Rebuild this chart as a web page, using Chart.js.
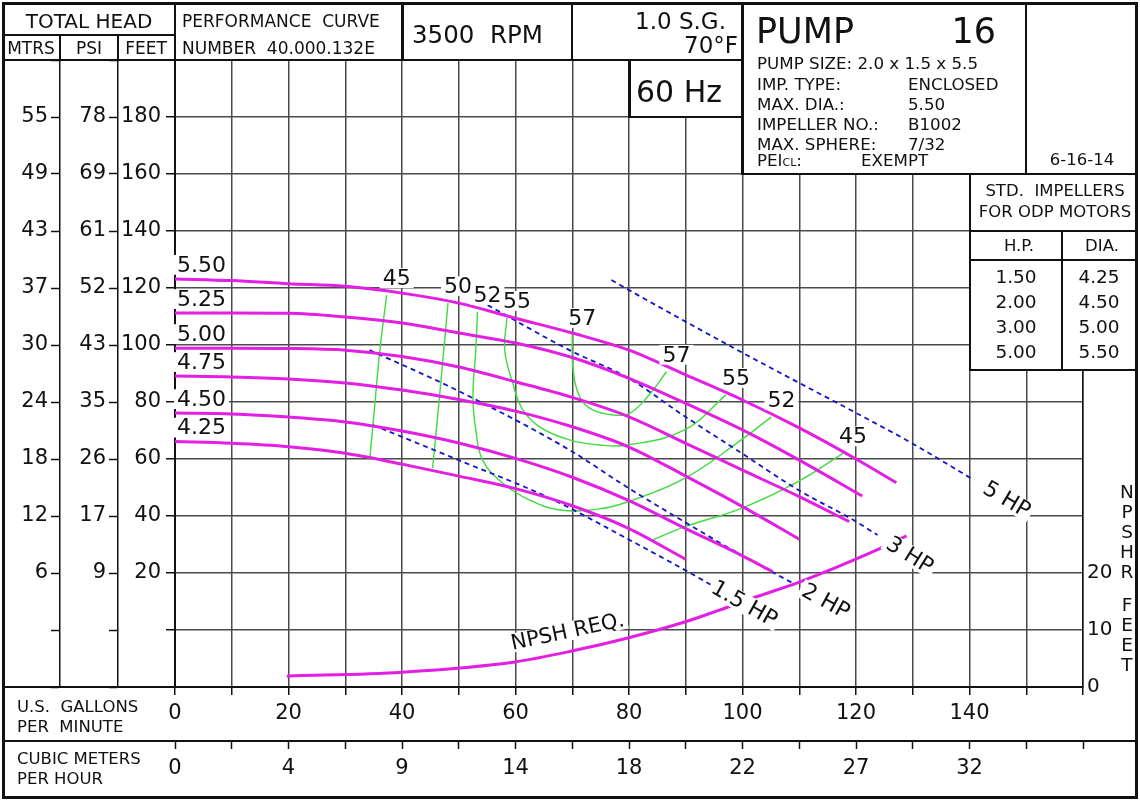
<!DOCTYPE html>
<html>
<head>
<meta charset="utf-8">
<title>Pump 16 performance curve</title>
<script src="https://cdn.jsdelivr.net/npm/chart.js@4.4.1/dist/chart.umd.min.js"></script>
<style>
  html, body { margin: 0; padding: 0; background: #fff; overflow: hidden; }
  #wrap { position: relative; width: 1140px; height: 801px; }
  #chart { position: absolute; left: 0; top: 0; }
  .ln { position: absolute; background: #111; }
  .box { position: absolute; background: #fff; }
  .t { position: absolute; white-space: pre; font-family: "DejaVu Sans", Verdana, sans-serif; color: #111; line-height: 1; }
</style>
</head>
<body>
<div id="wrap">
  <canvas id="chart" width="1140" height="801"></canvas>
  <div id="sheet"></div>
</div>
<script>
// Head scale tick labels (feet, with the matching metres and psi)
const headFeet = [180, 160, 140, 120, 100, 80, 60, 40, 20];
const headMtrs = ['55', '49', '43', '37', '30', '24', '18', '12', '6'];
const headPsi = ['78', '69', '61', '52', '43', '35', '26', '17', '9'];

// Flow scale tick labels
const gpmTicks = [0, 20, 40, 60, 80, 100, 120, 140];
const cmhTicks = ['0', '4', '9', '14', '18', '22', '27', '32'];
const npshTicks = [0, 10, 20];

// Impeller curves (gpm / feet)
const impDia = ['5.50', '5.25', '5.00', '4.75', '4.50', '4.25'];
const gpm550 = [0, 10, 20, 30, 40, 50, 60, 70, 80, 90, 100, 110, 120, 127.1];
const head550 = [123.2, 122.6, 121.5, 120.6, 118.2, 114.7, 109.4, 104.2, 98.2, 89.5, 80.7, 70.9, 60, 51.7];
const gpm525 = [0, 10, 20, 30, 40, 50, 60, 70, 80, 90, 100, 110, 121.1];
const head525 = [111.2, 111.2, 111.1, 109.8, 107.7, 104.2, 100.7, 95.6, 88.3, 79.5, 70.2, 59.6, 47];
const gpm500 = [0, 10, 20, 30, 40, 50, 60, 70, 80, 90, 100, 110, 118.8];
const head500 = [98.9, 98.9, 98.8, 98.2, 96, 92.3, 87.1, 81.6, 74.8, 65.5, 56.1, 46.8, 38];
const gpm475 = [0, 10, 20, 30, 40, 50, 60, 70, 80, 90, 100, 110];
const head475 = [89.1, 88.8, 88.1, 86.7, 84.2, 80.9, 76.8, 71.3, 64.2, 54, 43.3, 31.9];
const gpm450 = [0, 10, 20, 30, 40, 50, 60, 70, 80, 90, 100, 105.3];
const head450 = [76.1, 75.8, 74.7, 73, 69.8, 65.6, 60.2, 53.6, 45.4, 35.6, 26, 20.5];
const gpm425 = [0, 10, 20, 30, 40, 50, 60, 70, 80, 90];
const head425 = [66.1, 65.5, 64.3, 62, 58.2, 54, 49.6, 43.6, 35.6, 24.8];

// Efficiency curves (%), drawn from the top of each branch
const effStartLabel = ['45', '50', '52', '55', '57', ''];
const effEndLabel = ['', '', '52', '55', '57', '45'];
const eff45aGpm = [37.3, 36.1, 35.2, 34.3];
const eff45aHead = [117.5, 98.2, 78.9, 59.6];
const eff50Gpm = [48.1, 47.2, 46.3, 45.4];
const eff50Head = [114.7, 94.7, 75.4, 56.8];
const eff52Gpm = [53.3, 53.0, 52.5, 53.0, 54.2, 57.7, 62.5, 67.8, 74.8, 79.8, 89.8, 99.8, 105.1];
const eff52Head = [111.6, 98.2, 81.8, 70.2, 59.6, 51.6, 45.6, 42.1, 42.5, 45, 53.2, 66.7, 74.8];
const eff55Gpm = [58.5, 58.1, 59.5, 61.3, 64.3, 69.5, 74.8, 79.8, 89.8, 97.1];
const eff55Head = [109.5, 98.2, 86.7, 77.2, 71.2, 66.7, 64.9, 64.9, 70.2, 82.5];
const eff57Gpm = [70, 70.1, 71.3, 73.6, 77.5, 80.1, 83.3, 86.6];
const eff57Head = [103.5, 92.4, 81.9, 77.2, 75.4, 76, 81.9, 90.6];
const eff45bGpm = [84.2, 89.8, 99.8, 109.7, 117.7];
const eff45bHead = [31.6, 36.2, 42.7, 52, 62];

// Motor power lines
const hpNames = ['1.5 HP', '2 HP', '3 HP', '5 HP'];
const hp15Gpm = [34.9, 50.0, 66.0, 80.1, 89.8, 94.5];
const hp15Head = [71.9, 59.6, 46.3, 31.6, 21.1, 15.8];
const hp2Gpm = [34.3, 49.6, 69.5, 79.6, 89.8, 99.8, 108.8];
const hp2Head = [98.2, 84.2, 63.2, 50.2, 37.9, 26.3, 16.5];
const hp3Gpm = [55.1, 69.5, 79.8, 89.8, 99.8, 109.7, 119.7, 123.8];
const hp3Head = [114, 98.2, 88.5, 75, 62.1, 49.3, 38.4, 33.3];
const hp5Gpm = [76.9, 83.1, 99.8, 109.7, 119.7, 129.8, 140.8];
const hp5Head = [122.8, 115.8, 97.5, 87, 76.5, 65.6, 52.6];

// NPSH required (feet, right scale)
const npshGpm = [19.7, 40, 59.9, 69.9, 79.8, 89.8, 95.4, 101.8, 110, 122.9, 128.9];
const npshFeet = [1.9, 2.6, 4.4, 6.3, 8.6, 11.4, 13.3, 15.6, 18.4, 23.7, 26.5];

const MAG = '#e21fe2';
const GREEN = '#3fdc3f';
const BLUE = '#1414c8';
const FONT = '"DejaVu Sans", Verdana, sans-serif';

const impCurves = [[gpm550, head550], [gpm525, head525], [gpm500, head500],
  [gpm475, head475], [gpm450, head450], [gpm425, head425]];
const effCurves = [[eff45aGpm, eff45aHead], [eff50Gpm, eff50Head], [eff52Gpm, eff52Head],
  [eff55Gpm, eff55Head], [eff57Gpm, eff57Head], [eff45bGpm, eff45bHead]];
const hpCurves = [[hp15Gpm, hp15Head], [hp2Gpm, hp2Head], [hp3Gpm, hp3Head], [hp5Gpm, hp5Head]];

const pts = (gx, hy) => gx.map((x, i) => ({ x: x, y: hy[i] }));

// curves that run left to right get monotone smoothing, the loops get plain tension
const datasets = [];
impCurves.forEach(([g, h], i) => datasets.push({
  label: impDia[i], data: pts(g, h), borderColor: MAG, borderWidth: 3, order: 0,
  cubicInterpolationMode: 'monotone'
}));
datasets.push({
  label: 'NPSH REQ.', data: pts(npshGpm, npshFeet), yAxisID: 'npsh',
  borderColor: MAG, borderWidth: 3, order: 0, cubicInterpolationMode: 'monotone'
});
hpCurves.forEach(([g, h], i) => datasets.push({
  label: hpNames[i], data: pts(g, h), borderColor: BLUE, borderWidth: 1.8,
  borderDash: [5, 4], order: 1, cubicInterpolationMode: 'monotone'
}));
effCurves.forEach(([g, h], i) => datasets.push({
  label: 'eff ' + i, data: pts(g, h), borderColor: GREEN, borderWidth: 1.4, order: 2
}));
datasets.forEach(d => Object.assign(d, {
  showLine: true, pointRadius: 0, pointHoverRadius: 0, tension: 0.4, fill: false
}));

// text with a white patch behind it, like the labels on the printed sheet
function tag(ctx, text, px, py, angle, size, align) {
  ctx.save();
  ctx.translate(px, py);
  ctx.rotate(angle);
  ctx.font = size + 'px ' + FONT;
  const w = ctx.measureText(text).width;
  const x0 = align === 'left' ? 0 : -w / 2;
  ctx.fillStyle = '#fff';
  ctx.fillRect(x0 - 3, -size * 0.45, w + 6, size * 0.9);
  ctx.fillStyle = '#111';
  ctx.textAlign = 'left';
  ctx.textBaseline = 'middle';
  ctx.fillText(text, x0, 1);
  ctx.restore();
}

const curveLabels = {
  id: 'curveLabels',
  afterDatasetsDraw(chart) {
    const { ctx } = chart;
    const x = chart.scales.x, y = chart.scales.y, ny = chart.scales.npsh;

    // impeller diameters, just above the start of each curve
    impCurves.forEach(([g, h], i) => {
      tag(ctx, impDia[i], x.getPixelForValue(g[0]) + 2, y.getPixelForValue(h[0]) - 14, 0, 22, 'left');
    });

    // efficiency numbers at the branch ends
    effCurves.forEach(([g, h], i) => {
      const n = g.length - 1;
      if (effStartLabel[i]) tag(ctx, effStartLabel[i], x.getPixelForValue(g[0]) + 10, y.getPixelForValue(h[0]) - 17, 0, 22);
      if (effEndLabel[i]) tag(ctx, effEndLabel[i], x.getPixelForValue(g[n]) + 10, y.getPixelForValue(h[n]) - 17, 0, 22);
    });

    // power labels follow the end of each dashed line
    hpCurves.forEach(([g, h], i) => {
      const n = g.length - 1;
      const x1 = x.getPixelForValue(g[n - 1]), y1 = y.getPixelForValue(h[n - 1]);
      const x2 = x.getPixelForValue(g[n]), y2 = y.getPixelForValue(h[n]);
      const a = Math.atan2(y2 - y1, x2 - x1);
      tag(ctx, hpNames[i], x2 + 38 * Math.cos(a), y2 + 38 * Math.sin(a), a, 22);
    });

    // NPSH label sits over the curve
    const ax = x.getPixelForValue(npshGpm[2]), ay = ny.getPixelForValue(npshFeet[2]);
    const bx = x.getPixelForValue(npshGpm[4]), by = ny.getPixelForValue(npshFeet[4]);
    const cx = x.getPixelForValue(npshGpm[3]), cy = ny.getPixelForValue(npshFeet[3]);
    const a = Math.atan2(by - ay, bx - ax);
    tag(ctx, 'NPSH REQ.', cx + 20 * Math.sin(a), cy - 20 * Math.cos(a), a, 21);
  }
};

Chart.defaults.font.family = FONT;
Chart.defaults.color = '#111';

const tickMark = { tickColor: '#111', tickWidth: 1.5 };
const headScale = (weight, width, pad, cb) => ({
  type: 'linear', position: 'left', weight: weight, min: -20, max: 200,
  afterFit(s) { s.width = width; },
  ticks: { stepSize: 20, autoSkip: false, maxTicksLimit: 50, padding: pad, font: { size: 21 }, callback: cb },
  grid: Object.assign({ drawOnChartArea: false, tickLength: 9 }, tickMark),
  border: { display: true, color: '#111', width: 1.5 }
});

new Chart(document.getElementById('chart'), {
  type: 'scatter',
  data: { datasets: datasets },
  options: {
    responsive: false,
    animation: false,
    events: [],
    layout: { padding: { left: 3, right: 0, top: 60, bottom: 4 } },
    plugins: { legend: { display: false }, tooltip: { enabled: false } },
    scales: {
      x: {
        type: 'linear', position: 'bottom', weight: 1, min: 0, max: 160,
        afterFit(s) { s.height = 54; },
        ticks: { stepSize: 10, autoSkip: false, maxTicksLimit: 50, maxRotation: 0, padding: 6,
          font: { size: 21 }, callback: v => gpmTicks.includes(v) ? String(v) : '' },
        grid: Object.assign({ color: '#4a4a4a', lineWidth: 1.5, tickLength: 8 }, tickMark),
        border: { display: true, color: '#111', width: 2 }
      },
      x2: {
        type: 'linear', position: 'bottom', weight: 2, min: 0, max: 160,
        afterFit(s) { s.height = 56; },
        ticks: { stepSize: 10, autoSkip: false, maxTicksLimit: 50, maxRotation: 0, padding: 7,
          font: { size: 21 }, callback: v => { const i = gpmTicks.indexOf(v); return i < 0 ? '' : cmhTicks[i]; } },
        grid: Object.assign({ drawOnChartArea: false, tickLength: 8 }, tickMark),
        border: { display: true, color: '#111', width: 2 }
      },
      y: {
        type: 'linear', position: 'left', weight: 1, min: -20, max: 200,
        afterFit(s) { s.width = 57; },
        ticks: { stepSize: 20, autoSkip: false, maxTicksLimit: 50, padding: 5, font: { size: 21 },
          callback: v => headFeet.includes(v) ? String(v) : '' },
        grid: Object.assign({ color: '#4a4a4a', lineWidth: 1.5, tickLength: 9 }, tickMark),
        border: { display: true, color: '#111', width: 2 }
      },
      psi: headScale(2, 58, 3, v => { const i = headFeet.indexOf(v); return i < 0 ? '' : headPsi[i]; }),
      mtrs: headScale(3, 57, 3, v => { const i = headFeet.indexOf(v); return i < 0 ? '' : headMtrs[i]; }),
      npsh: {
        type: 'linear', position: 'right', min: 0, max: 110,
        afterFit(s) { s.width = 57; },
        ticks: { stepSize: 10, autoSkip: false, maxTicksLimit: 50, padding: 4, font: { size: 20 },
          callback: v => npshTicks.includes(v) ? String(v) : '' },
        grid: { drawOnChartArea: false, drawTicks: false },
        border: { display: true, color: '#111', width: 1.5 }
      }
    }
  },
  plugins: [curveLabels]
});

// ---- title block and tables around the chart ----
const sheet = document.getElementById('sheet');
function el(cls, x, y, w, h) {
  const d = document.createElement('div');
  d.className = cls;
  Object.assign(d.style, { left: x + 'px', top: y + 'px', width: w + 'px', height: h + 'px' });
  sheet.appendChild(d);
}
function text(s, x, yc, size, align) {
  const d = document.createElement('div');
  d.className = 't';
  d.innerHTML = s;
  d.style.fontSize = size + 'px';
  d.style.top = (yc - size * 0.48) + 'px';
  if (align === 'right') d.style.right = (1140 - x) + 'px';
  else if (align === 'center') { d.style.left = (x - 150) + 'px'; d.style.width = '300px'; d.style.textAlign = 'center'; }
  else d.style.left = x + 'px';
  sheet.appendChild(d);
  return d;
}

// white panels that hide the grid
el('box', 629, 60, 113, 57);
el('box', 743, 57, 394, 117);
el('box', 970, 174, 167, 196);

// rules
el('ln', 2, 2, 1136, 3);
el('ln', 2, 796, 1136, 3);
el('ln', 2, 2, 3, 797);
el('ln', 1135, 2, 3, 797);
el('ln', 3, 34, 172, 2);
el('ln', 59, 35, 2, 26);
el('ln', 117, 35, 2, 26);
el('ln', 174, 3, 2, 58);
el('ln', 3, 59, 740, 2);
el('ln', 401, 3, 3, 57);
el('ln', 571, 3, 2, 57);
el('ln', 741, 3, 3, 172);
el('ln', 1025, 3, 2, 171);
el('ln', 742, 173, 396, 2);
el('ln', 628, 60, 3, 58);
el('ln', 628, 116, 114, 2);
el('ln', 969, 174, 2, 197);
el('ln', 970, 230, 168, 2);
el('ln', 970, 259, 168, 2);
el('ln', 969, 369, 169, 2);
el('ln', 1061, 231, 2, 139);
el('ln', 3, 686, 172, 2);
el('ln', 3, 740, 1135, 2);

text('TOTAL HEAD', 89, 21, 20, 'center');
text('MTRS', 31, 48, 17, 'center');
text('PSI', 89, 48, 17, 'center');
text('FEET', 146, 48, 17, 'center');
text('PERFORMANCE  CURVE', 182, 21, 17);
text('NUMBER  40.000.132E', 182, 48, 17);
text('3500  RPM', 412, 35, 24.5);
text('1.0 S.G.', 726, 21, 23, 'right');
text('70°F', 738, 45, 23, 'right');
text('60 Hz', 636, 91, 30);

text('PUMP', 756, 31, 35);
text('16', 996, 31, 35, 'right');
text('PUMP SIZE: 2.0 x 1.5 x 5.5', 757, 63, 16.7);
text('IMP. TYPE:', 757, 84, 16.7);
text('ENCLOSED', 908, 84, 16.7);
text('MAX. DIA.:', 757, 104, 16.7);
text('5.50', 908, 104, 16.7);
text('IMPELLER NO.:', 757, 124, 16.7);
text('B1002', 908, 124, 16.7);
text('MAX. SPHERE:', 757, 144, 16.7);
text('7/32', 908, 144, 16.7);
text('PEI<span style="font-size:11px">CL</span>:', 757, 160, 16.7);
text('EXEMPT', 861, 160, 16.7);
text('6-16-14', 1082, 160, 16.5, 'center');

text('STD.  IMPELLERS', 1055, 191, 16.5, 'center');
text('FOR ODP MOTORS', 1055, 212, 16.5, 'center');
text('H.P.', 1019, 246, 16.5, 'center');
text('DIA.', 1102, 246, 16.5, 'center');
['1.50', '2.00', '3.00', '5.00'].forEach((s, i) => text(s, 1016, 277 + i * 25, 18.5, 'center'));
['4.25', '4.50', '5.00', '5.50'].forEach((s, i) => text(s, 1099, 277 + i * 25, 18.5, 'center'));

text('U.S.  GALLONS', 17, 707, 16.5);
text('PER  MINUTE', 17, 727, 16.5);
text('CUBIC METERS', 17, 759, 16.5);
text('PER HOUR', 17, 779, 16.5);

['N', 'P', 'S', 'H', 'R'].forEach((s, i) => text(s, 1127, 492 + i * 20, 18.5, 'center'));
['F', 'E', 'E', 'T'].forEach((s, i) => text(s, 1127, 605 + i * 20, 18.5, 'center'));
</script>
</body>
</html>
